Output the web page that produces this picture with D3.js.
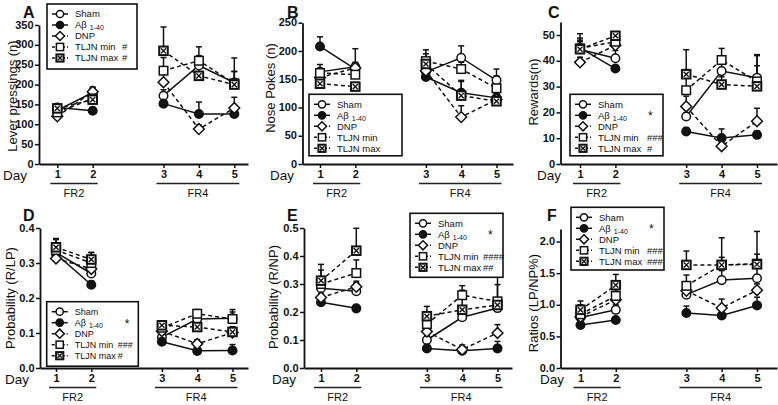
<!DOCTYPE html>
<html><head><meta charset="utf-8">
<script src="https://cdn.jsdelivr.net/npm/d3@7"></script>
<style>
body{margin:0;background:#fff;}
svg{display:block;}
text{font-family:"Liberation Sans",Arial,sans-serif;fill:#111;}
</style></head><body>
<svg id="c" width="778" height="405"></svg>
<script>
// ---------- data ----------
const days = [1, 2, 3, 4, 5];
const dayPos = [1, 2, 4, 5, 6];           // gap between FR2 and FR4 blocks
const groups = ["Sham", "Aβ", "DNP", "TLJN min", "TLJN max"];
const sessions = ["FR2", "FR4"];

// rows: Sham, Aβ1-40, DNP, TLJN min, TLJN max ; columns: day 1..5
const leverMeans = [[135,180,172,248,205],[142,134,152,126,126],[120,182,206,88,141],[130,165,235,260,203],[140,162,285,222,200]];
const leverSems  = [[8,10,15,25,28],[6,8,8,30,8],[6,12,25,10,27],[8,12,33,35,30],[8,30,60,40,67]];

const pokeMeans = [[163,172,163,188,148],[208,168,154,126,117],[153,170,165,83,114],[161,158,182,168,134],[142,137,177,121,111]];
const pokeSems  = [[13,32,10,21,20],[17,10,6,22,8],[8,10,12,20,8],[8,20,20,12,22],[6,5,18,25,6]];

const rewardMeans = [[44.4,41,18.4,36,33.4],[45,37,12.6,10.1,11.3],[39.4,46,22.3,6.9,16.6],[44.8,47.4,28.6,40.3,32],[44.5,49.7,34.8,30.8,30.1]];
const rewardSems  = [[3,3,5,5,9],[3,1,1.5,3.5,1.5],[2,3,4,1.5,5],[4,3,8,4.5,10],[6,1,9.5,3,8]];

const rlpMeans = [[0.33,0.27,0.088,0.14,0.142],[0.326,0.238,0.075,0.049,0.05],[0.313,0.283,0.105,0.069,0.101],[0.337,0.30,0.115,0.155,0.14],[0.345,0.31,0.122,0.117,0.103]];
const rlpSems  = [[0.02,0.02,0.01,0.015,0.025],[0.01,0.01,0.008,0.006,0.017],[0.01,0.02,0.01,0.012,0.01],[0.03,0.03,0.012,0.012,0.02],[0.025,0.02,0.012,0.02,0.015]];

const rnpMeans = [[0.285,0.274,0.10,0.181,0.214],[0.235,0.213,0.07,0.062,0.07],[0.252,0.29,0.13,0.066,0.125],[0.30,0.339,0.157,0.26,0.238],[0.312,0.419,0.185,0.208,0.225]];
const rnpSems  = [[0.02,0.03,0.015,0.02,0.03],[0.01,0.01,0.005,0.02,0.025],[0.015,0.02,0.02,0.01,0.03],[0.05,0.047,0.04,0.034,0.06],[0.058,0.08,0.035,0.07,0.1]];

const ratioMeans = [[0.80,0.92,1.16,1.39,1.42],[0.68,0.76,0.87,0.83,0.99],[0.81,1.08,1.22,0.95,1.23],[0.85,1.14,1.30,1.63,1.65],[0.92,1.31,1.63,1.63,1.64]];
const ratioSems  = [[0.05,0.08,0.1,0.15,0.2],[0.04,0.05,0.11,0.04,0.13],[0.05,0.08,0.1,0.14,0.1],[0.15,0.1,0.17,0.43,0.15],[0.14,0.17,0.22,0.12,0.52]];

const titles = ["Lever pressings (n)", "Nose Pokes (n)", "Rewards(n)", "Probability (R/LP)", "Probability (R/NP)", "Ratios (LP/NP%)"];
const letters = ["A", "B", "C", "D", "E", "F"];
const legendMarks = [["","","","#","#"],["","","","",""],["","*","","###","#"],["","*","","###","#"],["","*","","####","##"],["","*","","###","###"]];

// ---------- layout / style ----------
const styles = [
  {shape:"circle", fill:"#fff", dash:null},
  {shape:"circle", fill:"#111", dash:null},
  {shape:"diamond", fill:"#fff", dash:"4,3"},
  {shape:"square", fill:"#fff", dash:"4,3"},
  {shape:"xsquare", fill:"#fff", dash:"4,3"}
];

const panels = [
  {means:leverMeans, sems:leverSems, yMax:350, yStep:50, yTickMax:350, fmt:"d", ax:39, top:25, bottom:164, x1:57.3, x5:234.3, xEnd:248, titleX:12, titleY:96, letterX:23, dayX:3, leg:{x:47,y:4,w:90,h:65}, markX:75, lfs:9.5},
  {means:pokeMeans, sems:pokeSems, yMax:250, yStep:50, yTickMax:250, fmt:"d", ax:302.5, top:22.7, bottom:164, x1:320, x5:496.5, xEnd:513, titleX:270, titleY:88, letterX:287, dayX:270, leg:{x:309,y:94.3,w:93,h:61.5}, markX:75, lfs:9.5},
  {means:rewardMeans, sems:rewardSems, yMax:55, yStep:10, yTickMax:50, fmt:"d", ax:560.5, top:22.1, bottom:164, x1:580, x5:757, xEnd:777, titleX:533, titleY:92, letterX:548, dayX:537, leg:{x:570,y:94.3,w:93,h:61.5}, markX:77, lfs:9.5},
  {means:rlpMeans, sems:rlpSems, yMax:0.4, yStep:0.1, yTickMax:0.4, fmt:".1f", ax:40, top:228, bottom:368, x1:56, x5:232.5, xEnd:248, titleX:10, titleY:298, letterX:23, dayX:5, leg:{x:46.7,y:301.7,w:91.6,h:64.5}, markX:71, lfs:9},
  {means:rnpMeans, sems:rnpSems, yMax:0.5, yStep:0.1, yTickMax:0.5, fmt:".1f", ax:304, top:228, bottom:368, x1:321, x5:497.5, xEnd:512, titleX:273, titleY:297, letterX:287, dayX:272, leg:{x:410,y:213.3,w:93,h:64}, markX:73, lfs:9.5},
  {means:ratioMeans, sems:ratioSems, yMax:2.2, yStep:0.5, yTickMax:2.0, fmt:".1f", ax:560.5, top:228.9, bottom:368, x1:580.5, x5:757, xEnd:777, titleX:533, titleY:303, letterX:547, dayX:540, leg:{x:571,y:207.3,w:93,h:62.7}, markX:76, lfs:9.5}
];

const svg = d3.select("#c");

function drawMarker(g, shape, fill, cx, cy, s) {
  const st = "#111";
  if (shape === "circle") {
    g.append("circle").attr("cx", cx).attr("cy", cy).attr("r", s * 0.95)
      .attr("fill", fill).attr("stroke", st).attr("stroke-width", 1.5);
  } else if (shape === "diamond") {
    const d = s * 1.2;
    g.append("path").attr("d", `M${cx},${cy-d}L${cx+d},${cy}L${cx},${cy+d}L${cx-d},${cy}Z`)
      .attr("fill", fill).attr("stroke", st).attr("stroke-width", 1.5);
  } else {
    const h = s * 0.95;
    g.append("rect").attr("x", cx - h).attr("y", cy - h).attr("width", 2*h).attr("height", 2*h)
      .attr("fill", fill).attr("stroke", st).attr("stroke-width", shape === "xsquare" ? 2 : 1.5);
    if (shape === "xsquare") {
      const k = h * 0.6;
      g.append("path").attr("d", `M${cx-k},${cy-k}L${cx+k},${cy+k}M${cx+k},${cy-k}L${cx-k},${cy+k}`)
        .attr("stroke", st).attr("stroke-width", 1.4);
    }
  }
}

panels.forEach((p, pi) => {
  const g = svg.append("g");
  const xs0 = d3.scaleLinear().domain([1, 6]).range([p.x1, p.x5]);
  const x = d3.scaleLinear().domain([xs0.invert(p.ax), xs0.invert(p.xEnd)]).range([p.ax, p.xEnd]);
  const y = d3.scaleLinear().domain([0, p.yMax]).range([p.bottom, p.top]);
  const fmt = d3.format(p.fmt);
  const yTicks = d3.range(0, p.yTickMax + p.yStep / 2, p.yStep);

  // y axis
  const ya = g.append("g").attr("transform", `translate(${p.ax},0)`)
    .call(d3.axisLeft(y).tickValues(yTicks).tickFormat(fmt).tickSize(4).tickSizeOuter(0).tickPadding(1.5));
  ya.select(".domain").attr("stroke", "#111").attr("stroke-width", 1.8);
  ya.selectAll(".tick line").attr("stroke", "#111").attr("stroke-width", 1.5);
  ya.selectAll(".tick text").attr("font-size", 11).attr("font-weight", "bold").attr("fill", "#111")
    .attr("font-family", "'Liberation Sans',Arial,sans-serif").attr("dy", "0.28em");

  // x axis
  const xa = g.append("g").attr("transform", `translate(0,${p.bottom})`)
    .call(d3.axisBottom(x).tickValues(dayPos).tickFormat((d, i) => days[i]).tickSize(4).tickSizeOuter(0).tickPadding(2));
  xa.select(".domain").attr("stroke", "#111").attr("stroke-width", 1.8);
  xa.selectAll(".tick line").attr("stroke", "#111").attr("stroke-width", 1.5);
  xa.selectAll(".tick text").attr("font-size", 11).attr("font-weight", "bold").attr("fill", "#111")
    .attr("font-family", "'Liberation Sans',Arial,sans-serif");

  // Day label
  g.append("text").attr("x", p.dayX).attr("y", p.bottom + 15.5).attr("font-size", 13.5).text("Day");

  // session underlines
  const blocks = [[dayPos[0], dayPos[1]], [dayPos[2], dayPos[4]]];
  blocks.forEach((b, bi) => {
    const xa0 = x(b[0]) - 7, xa1 = x(b[1]) + 5;
    g.append("line").attr("x1", xa0).attr("x2", xa1).attr("y1", p.bottom + 19.5).attr("y2", p.bottom + 19.5)
      .attr("stroke", "#222").attr("stroke-width", 1.6);
    g.append("text").attr("x", (xa0 + xa1) / 2).attr("y", p.bottom + 33).attr("text-anchor", "middle")
      .attr("font-size", 11).text(sessions[bi]);
  });

  // y title
  g.append("text").attr("transform", `translate(${p.titleX},${p.titleY}) rotate(-90)`)
    .attr("text-anchor", "middle").attr("dy", "0.35em").attr("font-size", 13).text(titles[pi]);

  // panel letter
  g.append("text").attr("x", p.letterX).attr("y", p.top < 100 ? 17.5 : 220.5).attr("font-size", 16)
    .attr("font-weight", "bold").text(letters[pi]);

  // lines (FR2 block and FR4 block separately)
  const line = d3.line().x(d => x(d[0])).y(d => y(d[1]));
  groups.forEach((grp, gi) => {
    const pts = dayPos.map((dp, di) => [dp, p.means[gi][di]]);
    [pts.slice(0, 2), pts.slice(2)].forEach(seg => {
      g.append("path").attr("d", line(seg)).attr("fill", "none").attr("stroke", "#111")
        .attr("stroke-width", 1.5).attr("stroke-dasharray", styles[gi].dash);
    });
  });
  // error bars (upper only)
  groups.forEach((grp, gi) => {
    dayPos.forEach((dp, di) => {
      const m = p.means[gi][di], s = p.sems[gi][di];
      const cx = x(dp), y0 = y(m), y1 = y(m + s);
      g.append("line").attr("x1", cx).attr("x2", cx).attr("y1", y0).attr("y2", y1)
        .attr("stroke", "#111").attr("stroke-width", 1.5);
      g.append("line").attr("x1", cx - 3).attr("x2", cx + 3).attr("y1", y1).attr("y2", y1)
        .attr("stroke", "#111").attr("stroke-width", 1.5);
    });
  });
  // markers
  groups.forEach((grp, gi) => {
    dayPos.forEach((dp, di) => {
      drawMarker(g, styles[gi].shape, styles[gi].fill, x(dp), y(p.means[gi][di]), 4.5);
    });
  });

  // legend
  const L = p.leg;
  const lg = g.append("g");
  lg.append("rect").attr("x", L.x).attr("y", L.y).attr("width", L.w).attr("height", L.h)
    .attr("fill", "#fff").attr("stroke", "#111").attr("stroke-width", 1.6);
  groups.forEach((grp, gi) => {
    const ry = L.y + 10 + gi * 11;
    lg.append("line").attr("x1", L.x + 5).attr("x2", L.x + 21).attr("y1", ry).attr("y2", ry)
      .attr("stroke", "#111").attr("stroke-width", 1.5).attr("stroke-dasharray", styles[gi].dash ? "3,2" : null);
    drawMarker(lg, styles[gi].shape, styles[gi].fill, L.x + 13, ry, 3.8);
    const t = lg.append("text").attr("x", L.x + 28).attr("y", ry + 3.4).attr("font-size", p.lfs);
    if (gi === 1) {
      t.text("Aβ");
      t.append("tspan").attr("font-size", 7).attr("dx", 3).attr("dy", 2).text("1-40");
    } else {
      t.text(grp);
    }
    const mk = legendMarks[pi][gi];
    if (mk === "*") {
      lg.append("text").attr("x", L.x + 78).attr("y", ry + 5).attr("font-size", 12).text("*");
    } else if (mk) {
      lg.append("text").attr("x", L.x + p.markX).attr("y", ry + 3.4).attr("font-size", p.lfs).text(mk);
    }
  });
});
</script>
</body></html>
